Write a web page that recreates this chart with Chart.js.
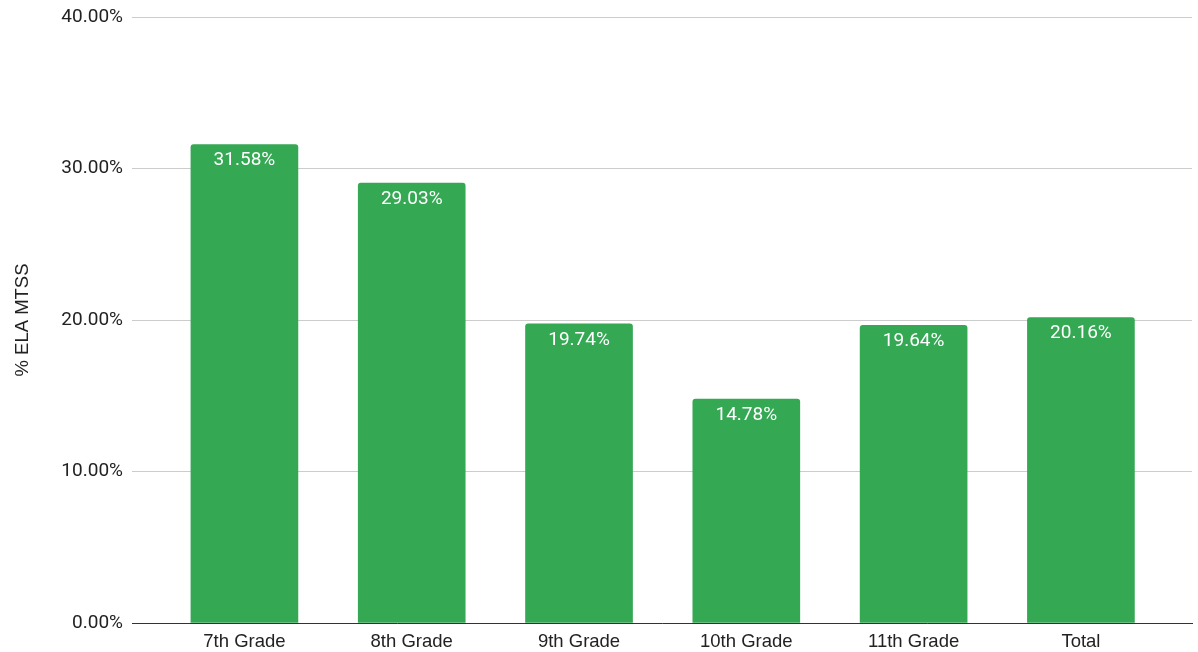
<!DOCTYPE html>
<html>
<head>
<meta charset="utf-8">
<script src="https://cdn.jsdelivr.net/npm/chart.js@4"></script>
<style>
  html, body { margin: 0; padding: 0; background: #fff; }
  #wrap { width: 1198px; height: 652px; }
</style>
</head>
<body>
<div id="wrap"><canvas id="mtssChart" width="1198" height="652"></canvas></div>
<script>
const grades = ['7th Grade', '8th Grade', '9th Grade', '10th Grade', '11th Grade', 'Total'];
const elaMtss = [31.58, 29.03, 19.74, 14.78, 19.64, 20.16];
const yTicks = [0, 10, 20, 30, 40];

const barGreen = '#34a853';

// white value labels just inside the top of each bar
const valueLabels = {
    id: 'valueLabels',
    afterDatasetsDraw(chart) {
        const ctx = chart.ctx;
        const meta = chart.getDatasetMeta(0);
        ctx.save();
        ctx.font = '19px Roboto';
        ctx.fillStyle = '#ffffff';
        ctx.textAlign = 'center';
        ctx.textBaseline = 'middle';
        meta.data.forEach((bar, i) => {
            ctx.fillText(elaMtss[i].toFixed(2) + '%', bar.x, bar.y + 16);
        });
        ctx.restore();
    }
};

const ctx = document.getElementById('mtssChart').getContext('2d');
const chart = new Chart(ctx, {
    type: 'bar',
    data: {
        datasets: [{
            label: '% ELA MTSS',
            data: elaMtss.map((v, i) => ({ x: i, y: v })),
            backgroundColor: barGreen,
            borderRadius: { topLeft: 3, topRight: 3 },
            borderSkipped: 'bottom',
            barThickness: 107
        }]
    },
    options: {
        responsive: false,
        animation: false,
        layout: { padding: { top: 17, right: 6, left: 0, bottom: 0 } },
        plugins: {
            legend: { display: false },
            tooltip: { enabled: false }
        },
        scales: {
            x: {
                type: 'linear',
                offset: false,
                min: -0.672,
                max: 5.664,
                afterBuildTicks: scale => {
                    scale.ticks = grades.map((g, i) => ({ value: i }));
                },
                afterFit: scale => {
                    scale.height = 29;
                    scale.paddingLeft = 0;
                    scale.paddingRight = 0;
                },
                grid: { display: false, drawTicks: false },
                border: { display: true, color: '#333333', width: 1 },
                ticks: {
                    autoSkip: false,
                    maxRotation: 0,
                    padding: 8,
                    color: '#222222',
                    font: { family: 'Liberation Sans, Arial', size: 18.5 },
                    callback: value => grades[value]
                }
            },
            y: {
                min: 0,
                max: 40,
                afterBuildTicks: scale => {
                    scale.ticks = yTicks.map(v => ({ value: v }));
                },
                afterFit: scale => {
                    scale.width = 132;
                    // let the top gridline sit at the layout padding
                    scale.paddingTop = 0;
                    scale.paddingBottom = 0;
                },
                grid: { color: '#cccccc', drawTicks: false },
                border: { display: false },
                ticks: {
                    padding: 9,
                    color: '#222222',
                    font: { family: 'Roboto', size: 19 },
                    callback: value => value.toFixed(2) + '%'
                },
                title: {
                    display: true,
                    text: '% ELA MTSS',
                    color: '#222222',
                    padding: { top: 12, bottom: 0 },
                    font: { family: 'Liberation Sans, Arial', size: 18.5 }
                }
            }
        }
    },
    plugins: [valueLabels]
});
</script>
</body>
</html>
